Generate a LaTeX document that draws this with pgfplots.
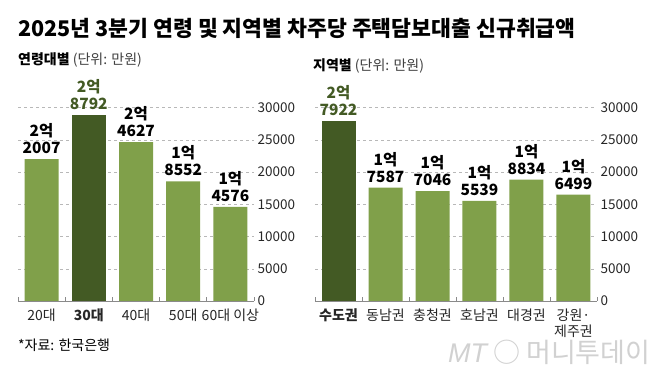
\documentclass[border=0pt]{standalone}
\usepackage{pgfplots}
\pgfplotsset{compat=1.18}
\usepackage{fontspec}
\setmainfont{Noto Sans CJK KR}
\newfontfamily\latin{Liberation Sans}
\definecolor{lg}{HTML}{80A04A}
\definecolor{dg}{HTML}{435A24}
\definecolor{gridc}{HTML}{B8B8B8}
\definecolor{basec}{HTML}{8A8A8A}

\pgfplotsset{mystyle/.style={
  scale only axis, height=193.5pt, ymin=0, ymax=30000,
  ybar, bar width=34pt, bar shift=0pt, clip=false,
  axis x line*=bottom, axis y line*=right,
  y axis line style={draw=none},
  x axis line style={draw=basec, line width=0.7pt, -},
  ymajorgrids, grid style={dashed, gridc, line width=0.5pt},
  ytick={0,5000,...,30000},
  scaled y ticks=false,
  /pgf/number format/1000 sep={},
  /pgf/number format/assume math mode=true,
  yticklabel style={font=\fontsize{13.5}{15}\selectfont, anchor=west, xshift=0pt, text=black!85},
  major y tick style={draw=none},
  major x tick style={draw=none},
  minor x tick style={draw=basec, line width=0.7pt},
  minor tick length=4pt,
  tick align=inside,
  xticklabel style={font=\fontsize{14}{16}\selectfont, align=center, anchor=north, yshift=-4pt, text=black!85},
  nodes near coords,
  point meta=explicit symbolic,
  every node near coord/.append style={font=\bfseries\fontsize{15.5}{17}\selectfont, align=center, anchor=south, inner sep=0pt, yshift=5pt},
}}

\begin{document}
\begin{tikzpicture}
\path[use as bounding box, fill=white] (0,0) rectangle (654pt,-374pt);

\node[anchor=base west, inner sep=0pt, font=\bfseries\fontsize{21.6}{24}\selectfont] at (18pt,-37pt) {2025년 3분기 연령 및 지역별 차주당 주택담보대출 신규취급액};

\node[anchor=west, inner sep=0pt, font=\fontsize{14}{16}\selectfont] at (18pt,-60pt) {\textbf{연령대별} \textcolor{black!75}{(단위: 만원)}};
\node[anchor=west, inner sep=0pt, font=\fontsize{14}{16}\selectfont] at (313pt,-66pt) {\textbf{지역별} \textcolor{black!75}{(단위: 만원)}};

\begin{axis}[mystyle, at={(18pt,-301pt)}, anchor=south west, width=236pt,
  xmin=-0.5, xmax=4.5,
  xtick={0,1,2,3,4},
  xticklabels={20대,\textbf{30대},40대,50대,60대 이상},
  minor xtick={-0.5,0.5,1.5,2.5,3.5,4.5}]
\addplot[fill=lg, draw=none, every node near coord/.append style={text=black}] coordinates {
  (0,22007) [2억\\2007]
  (2,24627) [2억\\4627]
  (3,18552) [1억\\8552]
  (4,14576) [1억\\4576]
};
\addplot[fill=dg, draw=none, every node near coord/.append style={text=dg}] coordinates {
  (1,28792) [2억\\8792]
};
\end{axis}

\begin{axis}[mystyle, at={(315pt,-301pt)}, anchor=south west, width=282pt,
  xmin=-0.5, xmax=5.5,
  xtick={0,1,2,3,4,5},
  xticklabels={\textbf{수도권},동남권,충청권,호남권,대경권,강원·\\제주권},
  minor xtick={-0.5,0.5,1.5,2.5,3.5,4.5,5.5}]
\addplot[fill=dg, draw=none, every node near coord/.append style={text=dg}] coordinates {
  (0,27922) [2억\\7922]
};
\addplot[fill=lg, draw=none, every node near coord/.append style={text=black}] coordinates {
  (1,17587) [1억\\7587]
  (2,17046) [1억\\7046]
  (3,15539) [1억\\5539]
  (4,18834) [1억\\8834]
  (5,16499) [1억\\6499]
};
\end{axis}

\node[anchor=west, inner sep=0pt, font=\fontsize{14}{16}\selectfont] at (18pt,-345pt) {*자료: 한국은행};
\node[anchor=west, inner sep=0pt, text=black!18, font=\fontsize{27}{28}\selectfont] at (448pt,-352pt) {{\latin\itshape MT} ○ 머니투데이};
\end{tikzpicture}
\end{document}
